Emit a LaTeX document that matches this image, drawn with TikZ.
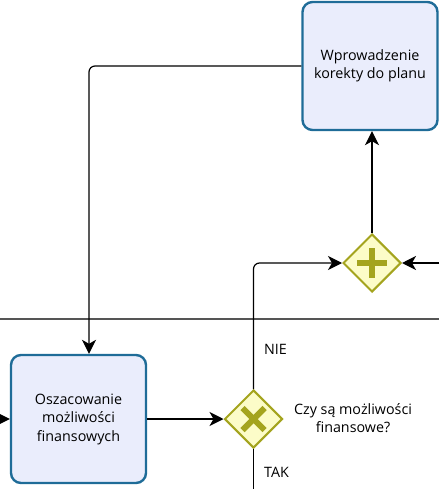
\documentclass[tikz,border=0pt]{standalone}
\usepackage{fontspec}
\setmainfont{Open Sans}
\usetikzlibrary{arrows.meta,shapes.geometric,calc}
\definecolor{taskline}{HTML}{1F6C98}
\definecolor{taskfill}{HTML}{EAEDFC}
\definecolor{gwline}{HTML}{A4A41E}
\definecolor{gwfill}{HTML}{FCFCC8}
\definecolor{lane}{HTML}{555555}
\begin{document}
\begin{tikzpicture}[x=1pt,y=-1pt,
  task/.style={draw=taskline,fill=taskfill,line width=2.4pt,rounded corners=10pt,minimum width=135pt,minimum height=128pt,align=center,font=\fontsize{14.3}{18.5}\selectfont,inner sep=0pt},
  gw/.style={diamond,draw=gwline,fill=gwfill,line width=2pt,minimum width=58pt,minimum height=58pt,inner sep=0pt},
  flow/.style={draw=black,line width=1.2pt,rounded corners=6pt,-{Stealth[length=14pt,width=14pt,inset=4pt]}},
  plain/.style={draw=black,line width=1.2pt},
  lbl/.style={font=\fontsize{14.3}{18.5}\selectfont,align=center,inner sep=0pt}]
\useasboundingbox (0,0) rectangle (439,489);
\draw[lane,line width=1.2pt] (0,319) -- (439,319);
\node[task] (t1) at (370,66) {Wprowadzenie\\korekty do planu};
\node[task] (t2) at (78.5,419) {Oszacowanie\\możliwości\\finansowych};
\node[gw] (pg) at (372,263) {};
\node[gw] (xg) at (253.5,419) {};
% plus marker
\fill[gwline] ($(pg)+(-15,-3.4)$) rectangle ($(pg)+(15,3.4)$);
\fill[gwline] ($(pg)+(-3.4,-15)$) rectangle ($(pg)+(3.4,15)$);
% x marker
\begin{scope}[shift={(xg)}]
\draw[gwline,line width=6pt] (-11,-11) -- (11,11);
\draw[gwline,line width=6pt] (-11,11) -- (11,-11);
\end{scope}
\coordinate (inL) at (0,419);
\coordinate (inR) at (439,263);
\coordinate (outB) at (253.5,489);
\coordinate (c89) at (89,0);
\draw[flow] (inL) -- (t2.west);
\draw[flow] (t2.east) -- (xg.west);
\draw[flow] (xg.north) |- (pg.west);
\draw[plain] (xg.south) -- (outB);
\draw[flow] (inR) -- (pg.east);
\draw[flow] (pg.north) -- (t1.south -| pg.north);
\draw[flow] (t1.west) -| (t2.north -| c89);
\node[lbl,anchor=west] (nie) at (264,349) {NIE};
\node[lbl,anchor=west] (tak) at (264,472) {TAK};
\node[lbl] (q) at (353,418) {Czy są możliwości\\finansowe?};
\end{tikzpicture}
\end{document}
